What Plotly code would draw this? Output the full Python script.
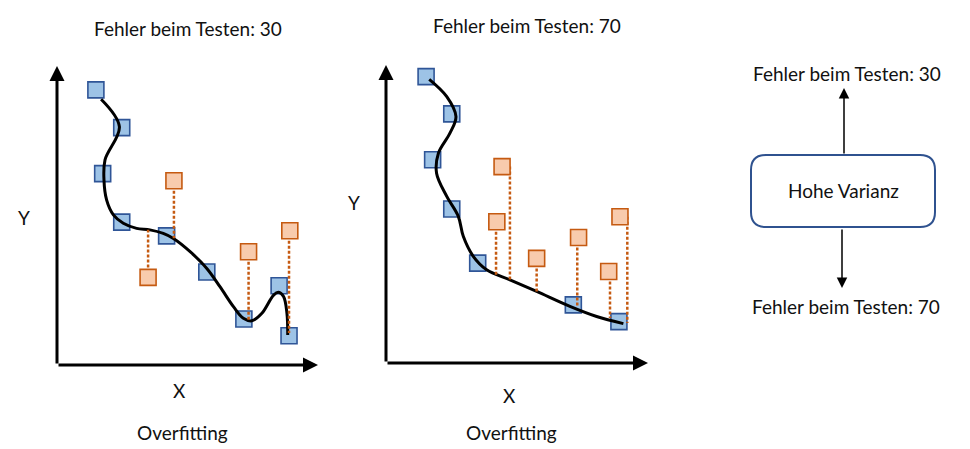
import plotly.graph_objects as go

# left panel (test error 30) - axis units 0..10
L_TRAIN_X = [1.49, 2.48, 1.75, 2.48, 4.20, 5.74, 7.16, 8.51, 8.89]
L_TRAIN_Y = [9.20, 7.94, 6.40, 4.78, 4.32, 3.11, 1.54, 2.65, 0.98]
L_TEST_X = [4.48, 3.49, 7.34, 8.92]
L_TEST_Y = [6.16, 2.93, 3.79, 4.49]
L_GAP_X = [4.48, 3.49, 7.34, 8.89]
L_FIT_AT_GAP = [4.24, 4.52, 1.51, 1.07]
L_CURVE_X = [1.69, 2.39, 1.84, 1.80, 1.90, 2.16, 2.54, 3.05, 3.56, 4.07, 4.46, 5.10,
             5.74, 6.25, 6.76, 7.14, 7.47, 7.85, 8.30, 8.49, 8.68, 8.81, 8.84]
L_CURVE_Y = [8.89, 7.97, 6.86, 6.19, 5.52, 5.02, 4.74, 4.57, 4.52, 4.40, 4.23, 3.79,
             3.23, 2.61, 1.95, 1.56, 1.48, 1.73, 2.34, 2.43, 2.29, 1.73, 1.00]

# right panel (test error 70)
R_TRAIN_X = [1.53, 2.51, 1.78, 2.51, 3.50, 7.15, 8.89]
R_TRAIN_Y = [9.61, 8.36, 6.82, 5.17, 3.35, 1.95, 1.39]
R_TEST_X = [4.43, 4.23, 5.75, 7.35, 8.50, 8.93]
R_TEST_Y = [6.59, 4.74, 3.51, 4.21, 3.07, 4.91]
R_GAP_X = [4.73, 4.20, 5.75, 7.30, 8.55, 9.21]
R_FIT_AT_GAP = [2.79, 2.90, 2.35, 1.90, 1.51, 1.34]
R_CURVE_X = [1.65, 2.32, 2.67, 2.44, 2.00, 1.93, 2.32, 2.76, 2.95, 3.33, 3.84, 4.73,
             5.75, 7.02, 8.04, 9.06]
R_CURVE_Y = [9.52, 8.94, 8.27, 7.71, 7.04, 6.37, 5.59, 4.92, 4.25, 3.58, 3.13, 2.79,
             2.40, 1.90, 1.56, 1.32]

PANEL_TITLES = ["Fehler beim Testen: 30", "Fehler beim Testen: 70"]
BOX_TEXT = "Hohe Varianz"

W, H = 970, 449
FONT = "Lato"
FONT_SIZE = 19
BLUE_FILL, BLUE_LINE = "#9dc3e6", "#2f5597"
ORANGE_FILL, ORANGE_LINE = "#f8cbad", "#c55a11"


def px(x):
    return x / W


def py(y):
    return 1 - y / H


def gap_lines(xs, y_top, y_fit):
    gx, gy = [], []
    for x, a, b in zip(xs, y_top, y_fit):
        gx += [x, x, None]
        gy += [a, b, None]
    return gx, gy


fig = go.Figure()

panels = [
    ("x", "y", L_TRAIN_X, L_TRAIN_Y, L_TEST_X, L_TEST_Y, L_GAP_X, L_FIT_AT_GAP, L_CURVE_X, L_CURVE_Y),
    ("x2", "y2", R_TRAIN_X, R_TRAIN_Y, R_TEST_X, R_TEST_Y, R_GAP_X, R_FIT_AT_GAP, R_CURVE_X, R_CURVE_Y),
]
for xa, ya, trx, tr_y, tex, tey, gapx, fit, cx, cy in panels:
    fig.add_trace(go.Scatter(
        x=trx, y=tr_y, xaxis=xa, yaxis=ya, mode="markers", cliponaxis=False,
        marker=dict(symbol="square", size=16, color=BLUE_FILL, line=dict(color=BLUE_LINE, width=1.6)),
    ))
    fig.add_trace(go.Scatter(
        x=cx, y=cy, xaxis=xa, yaxis=ya, mode="lines", cliponaxis=False,
        line=dict(color="black", width=3, shape="spline", smoothing=1.0),
    ))
    gx, gy = gap_lines(gapx, tey, fit)
    fig.add_trace(go.Scatter(
        x=gx, y=gy, xaxis=xa, yaxis=ya, mode="lines", cliponaxis=False,
        line=dict(color=ORANGE_LINE, width=2.5, dash="3px,2px"),
    ))
    fig.add_trace(go.Scatter(
        x=tex, y=tey, xaxis=xa, yaxis=ya, mode="markers", cliponaxis=False,
        marker=dict(symbol="square", size=16, color=ORANGE_FILL, line=dict(color=ORANGE_LINE, width=1.6)),
    ))

annotations = []
# axis arrows
for xa, ya in (("x", "y"), ("x2", "y2")):
    for tip in ((10, 0), (0, 10)):
        annotations.append(dict(
            x=tip[0], y=tip[1], ax=0, ay=0, xref=xa, yref=ya, axref=xa, ayref=ya,
            showarrow=True, arrowhead=2, arrowsize=1, arrowwidth=3, arrowcolor="black", text="",
        ))


def label(text, x, y, size=FONT_SIZE):
    annotations.append(dict(
        text=text, x=px(x), y=py(y), xref="paper", yref="paper", showarrow=False,
        xanchor="center", yanchor="middle", font=dict(family=FONT, size=size, color="#111111"),
    ))


label(PANEL_TITLES[0], 188, 28)
label(PANEL_TITLES[1], 527, 26)
label("Y", 24, 217)
label("Y", 354, 203)
label("X", 179, 390)
label("X", 509, 395)
label("Overfitting", 182, 432)
label("Overfitting", 511, 432)
label(PANEL_TITLES[0], 847, 73)
label(PANEL_TITLES[1], 846, 306)
label(BOX_TEXT, 843, 190)

# arrows from the box
annotations.append(dict(x=px(844), y=py(88), ax=0, ay=67, xref="paper", yref="paper", text="",
                        showarrow=True, arrowhead=2, arrowsize=1.4, arrowwidth=1.5, arrowcolor="black"))
annotations.append(dict(x=px(842), y=py(288), ax=0, ay=-60, xref="paper", yref="paper", text="",
                        showarrow=True, arrowhead=2, arrowsize=1.4, arrowwidth=1.5, arrowcolor="black"))

# rounded box
x0, x1, y0, y1 = px(751), px(935), py(227), py(155)
rx, ry = 15 / W, 15 / H
box_path = (
    f"M {x0 + rx},{y0} L {x1 - rx},{y0} Q {x1},{y0} {x1},{y0 + ry} "
    f"L {x1},{y1 - ry} Q {x1},{y1} {x1 - rx},{y1} L {x0 + rx},{y1} "
    f"Q {x0},{y1} {x0},{y1 - ry} L {x0},{y0 + ry} Q {x0},{y0} {x0 + rx},{y0} Z"
)

fig.update_layout(
    width=W, height=H, margin=dict(l=0, r=0, t=0, b=0),
    paper_bgcolor="white", plot_bgcolor="white", showlegend=False,
    annotations=annotations,
    shapes=[dict(type="path", path=box_path, xref="paper", yref="paper",
                 line=dict(color="#2f528f", width=2), fillcolor="white", layer="below")],
    xaxis=dict(domain=[px(57), px(318)], range=[0, 10], visible=False),
    yaxis=dict(domain=[py(365), py(66)], range=[0, 10], visible=False),
    xaxis2=dict(domain=[px(386), px(648)], range=[0, 10], visible=False, anchor="y2"),
    yaxis2=dict(domain=[py(363), py(65)], range=[0, 10], visible=False, anchor="x2"),
)
fig.update_xaxes(fixedrange=True)
fig.update_yaxes(fixedrange=True)

fig.write_html("out.html", config={"displayModeBar": False},
               post_script="document.body.style.margin='0';")
